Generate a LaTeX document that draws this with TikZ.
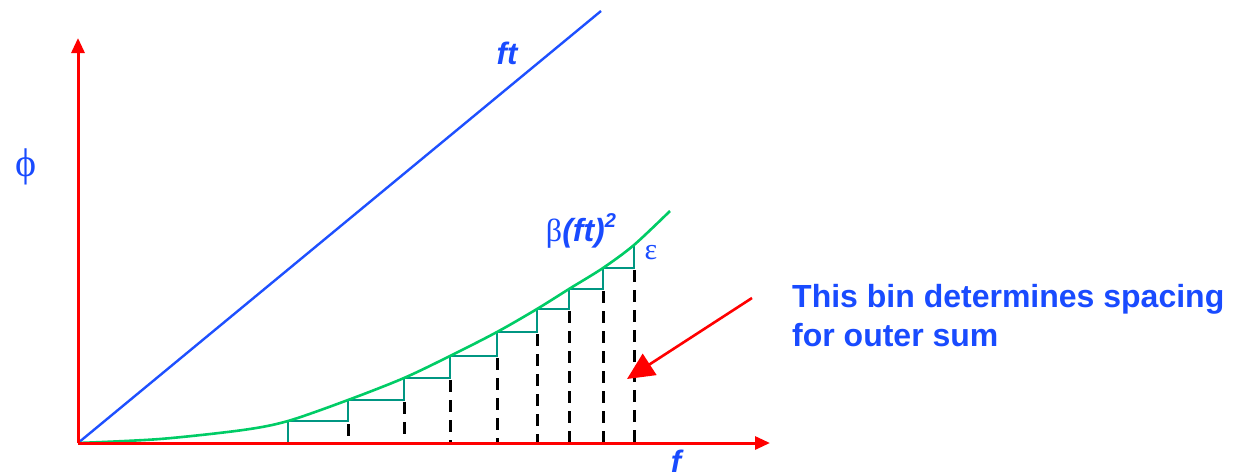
\documentclass[tikz,border=0pt]{standalone}
\usepackage{fontspec}
\setmainfont{Liberation Serif}
\setsansfont{Liberation Sans}
\usetikzlibrary{arrows.meta}
\definecolor{axisred}{RGB}{255,0,0}
\definecolor{lineblue}{RGB}{30,80,255}
\definecolor{txtblue}{RGB}{25,75,255}
\definecolor{curvegreen}{RGB}{0,204,102}
\definecolor{stepteal}{RGB}{0,150,130}
\begin{document}
\begin{tikzpicture}[x=1pt,y=-1pt,
  axis/.style={draw=axisred,line width=3pt,-{Triangle[length=15pt,width=13pt]}},
  pointer/.style={draw=axisred,line width=2.6pt,-{Triangle[length=27pt,width=25pt]}},
  ftline/.style={draw=lineblue,line width=2.4pt},
  curve/.style={draw=curvegreen,line width=2.6pt},
  stairs/.style={draw=stepteal,line width=2.6pt},
  bindash/.style={draw=black,line width=3pt,dash pattern=on 12pt off 8pt},
  lbl/.style={text=txtblue,inner sep=0pt},
  sflbl/.style={lbl,font=\sffamily\bfseries\itshape\fontsize{31}{33}\selectfont},
  greek/.style={lbl,font=\fontsize{40}{42}\selectfont},
  note/.style={lbl,font=\sffamily\bfseries\fontsize{32}{39}\selectfont,align=left,anchor=north west}]
\useasboundingbox (0,0) rectangle (1239,474);
\fill[white] (0,0) rectangle (1239,474);
% coordinates
\coordinate (O) at (78,443);
\coordinate (ytip) at (78,38);
\coordinate (xtip) at (770,443);
\coordinate (ftend) at (601,11);
\coordinate (ptrstart) at (752,298);
\coordinate (ptrtip) at (627,379);
% ft line
\draw[ftline] (O) -- (ftend);
% staircase
\draw[stairs] (O) -- (288,443) -- (288,421) -- (348,421) -- (348,400) -- (404,400) -- (404,378)
  -- (450,378) -- (450,356) -- (497,356) -- (497,332) -- (537,332) -- (537,309) -- (569,309)
  -- (569,289) -- (603,289) -- (603,268) -- (634,268) -- (634,245);
% dashed bins
\foreach \xx/\yy in {348/424,404/402,450/380,497/358,537/334,569/311,603/291,634/270}
  \draw[bindash] (\xx,\yy) -- (\xx,443);
% green curve
\draw[curve] plot[smooth,tension=0.5] coordinates {(78,443) (160,439) (243,430) (288,421) (348,400) (404,378) (450,356) (497,332) (537,309) (569,289) (603,268) (634,245) (670,211)};
% axes
\draw[axis] (O) -- (ytip);
\draw[axis] (O) -- (xtip);
% pointer arrow
\draw[pointer] (ptrstart) -- (ptrtip);
% labels
\node[greek] (phi) at (26,167) {ϕ};
\node[sflbl] (ftlbl) at (507,53) {ft};
\node[lbl] (beta) at (581,231) {\fontsize{32}{34}\selectfont β\sffamily\bfseries\itshape (ft)\raisebox{0.42em}{\fontsize{20}{22}\selectfont 2}};
\node[greek,font=\fontsize{30}{32}\selectfont] (eps) at (651,253) {ε};
\node[sflbl] (flbl) at (676,461) {f};
\node[note] (note) at (792,284) {This bin determines spacing\\for outer sum};
\end{tikzpicture}
\end{document}
